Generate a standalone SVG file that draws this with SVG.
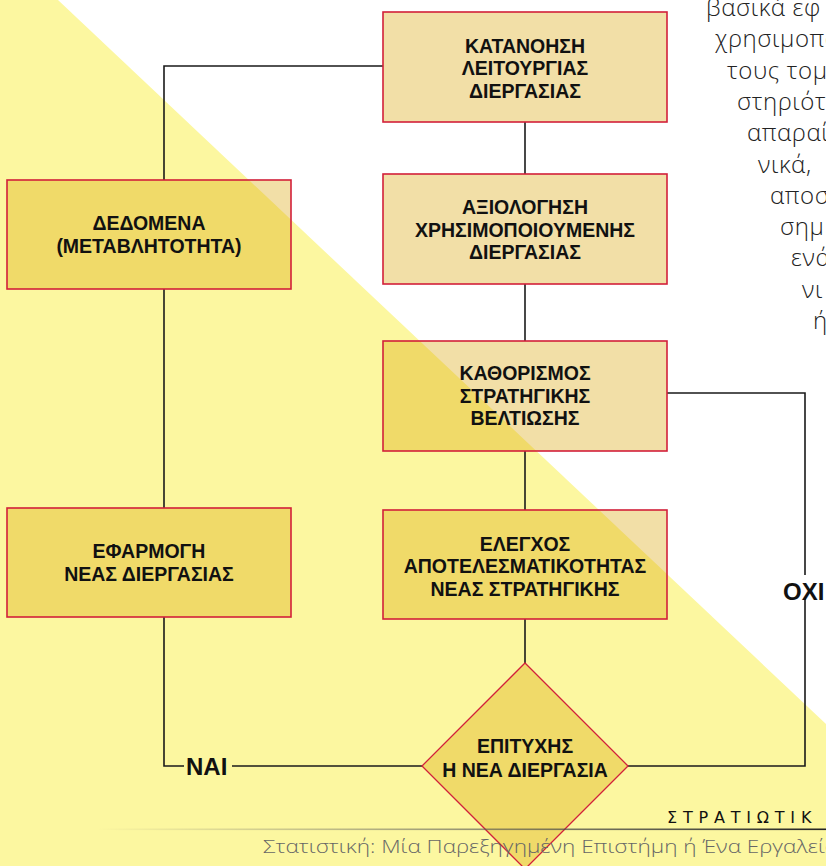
<svg xmlns="http://www.w3.org/2000/svg" width="826" height="866" viewBox="0 0 826 866">
<defs>
<style>
.box{fill:#DAA304;fill-opacity:0.35;stroke:#D2203A;stroke-width:1.6}
.dia{fill:#DAA304;fill-opacity:0.35;stroke:#D2203A;stroke-width:1.3}
.lbl{font-family:"Liberation Sans",Arial,sans-serif;font-weight:bold;font-size:19.5px;fill:#111;text-anchor:middle}
.yn{font-family:"Liberation Sans",Arial,sans-serif;font-weight:bold;font-size:24px;fill:#111}
.con{fill:none;stroke:#1a1a1a;stroke-width:1.6}
.para{font-family:"Open Sans","DejaVu Sans",sans-serif;font-weight:300;font-size:24px;letter-spacing:0.6px;fill:#222}
</style>
<linearGradient id="fl" x1="0" y1="0" x2="1" y2="0">
<stop offset="0" stop-color="#666" stop-opacity="0"/>
<stop offset="0.5" stop-color="#555" stop-opacity="0.6"/>
<stop offset="1" stop-color="#222" stop-opacity="1"/>
</linearGradient>
</defs>
<rect width="826" height="866" fill="#ffffff"/>
<polygon points="0,0 58,0 826,724 826,866 0,866" fill="#FCF7A0"/>

<g id="paragraph" class="para">
<text x="706" y="16">βασικά εφ</text>
<text x="715" y="47.3">χρησιμοπο</text>
<text x="727" y="78.6">τους τομε</text>
<text x="737" y="109.9">στηριότη</text>
<text x="747" y="141.2">απαραί</text>
<text x="758" y="172.5">νικά,</text>
<text x="770" y="203.8">αποσ</text>
<text x="780" y="235.1">σημ</text>
<text x="791" y="266.4">ενά</text>
<text x="802" y="297.7">νι</text>
<text x="813" y="329">ή</text>
</g>

<g id="connectors">
<polyline class="con" points="383,66 164,66 164,180"/>
<line class="con" x1="164" y1="289" x2="164" y2="508"/>
<polyline class="con" points="164,617 164,766 184,766"/>
<line class="con" x1="232" y1="766" x2="423" y2="766"/>
<line class="con" x1="525" y1="122" x2="525" y2="174"/>
<line class="con" x1="525" y1="284" x2="525" y2="341"/>
<line class="con" x1="525" y1="451" x2="525" y2="510"/>
<line class="con" x1="525" y1="619" x2="525" y2="663"/>
<polyline class="con" points="667,393 805,393 805,575"/>
<polyline class="con" points="805,598 805,766 628,766"/>
</g>

<g id="n1">
<rect class="box" x="383" y="12" width="284" height="110"/>
<text class="lbl" x="525" y="52.5">ΚΑΤΑΝΟΗΣΗ</text>
<text class="lbl" x="525" y="75.2">ΛΕΙΤΟΥΡΓΙΑΣ</text>
<text class="lbl" x="525" y="97.9">ΔΙΕΡΓΑΣΙΑΣ</text>
</g>
<g id="n2">
<rect class="box" x="383" y="174" width="284" height="110"/>
<text class="lbl" x="525" y="214">ΑΞΙΟΛΟΓΗΣΗ</text>
<text class="lbl" x="525" y="236.7">ΧΡΗΣΙΜΟΠΟΙΟΥΜΕΝΗΣ</text>
<text class="lbl" x="525" y="259.4">ΔΙΕΡΓΑΣΙΑΣ</text>
</g>
<g id="n3">
<rect class="box" x="383" y="341" width="284" height="110"/>
<text class="lbl" x="525" y="380">ΚΑΘΟΡΙΣΜΟΣ</text>
<text class="lbl" x="525" y="402.7">ΣΤΡΑΤΗΓΙΚΗΣ</text>
<text class="lbl" x="525" y="425.4">ΒΕΛΤΙΩΣΗΣ</text>
</g>
<g id="n4">
<rect class="box" x="383" y="510" width="284" height="109"/>
<text class="lbl" x="525" y="550.5">ΕΛΕΓΧΟΣ</text>
<text class="lbl" x="525" y="573.2">ΑΠΟΤΕΛΕΣΜΑΤΙΚΟΤΗΤΑΣ</text>
<text class="lbl" x="525" y="595.9">ΝΕΑΣ ΣΤΡΑΤΗΓΙΚΗΣ</text>
</g>
<g id="n5">
<rect class="box" x="7" y="180" width="284" height="109"/>
<text class="lbl" x="149" y="230">ΔΕΔΟΜΕΝΑ</text>
<text class="lbl" x="149" y="252.7">(ΜΕΤΑΒΛΗΤΟΤΗΤΑ)</text>
</g>
<g id="n6">
<rect class="box" x="7" y="508" width="284" height="109"/>
<text class="lbl" x="149" y="557.5">ΕΦΑΡΜΟΓΗ</text>
<text class="lbl" x="149" y="580.5">ΝΕΑΣ ΔΙΕΡΓΑΣΙΑΣ</text>
</g>
<g id="n7">
<polygon class="dia" points="525,663 628,766 525,869 422,766"/>
<text class="lbl" x="525" y="753">ΕΠΙΤΥΧΗΣ</text>
<text class="lbl" x="525" y="777">Η ΝΕΑ ΔΙΕΡΓΑΣΙΑ</text>
</g>

<g id="labels">
<text class="yn" x="186" y="775">ΝΑΙ</text>
<text class="yn" x="783" y="600" font-size="23">ΟΧΙ</text>
</g>

<g id="footer">
<rect x="97" y="828.5" width="729" height="1.6" fill="url(#fl)"/>
<text x="667" y="823" font-family="'DejaVu Sans',sans-serif" font-size="16" letter-spacing="5.8" fill="#111">ΣΤΡΑΤΙΩΤΙΚ</text>
<text x="263" y="853" font-family="'Open Sans','DejaVu Sans',sans-serif" font-weight="300" font-size="17.5" fill="#666" textLength="575" lengthAdjust="spacingAndGlyphs">Στατιστική: Μία Παρεξηγημένη Επιστήμη ή Ένα Εργαλείο</text>
</g>
</svg>
